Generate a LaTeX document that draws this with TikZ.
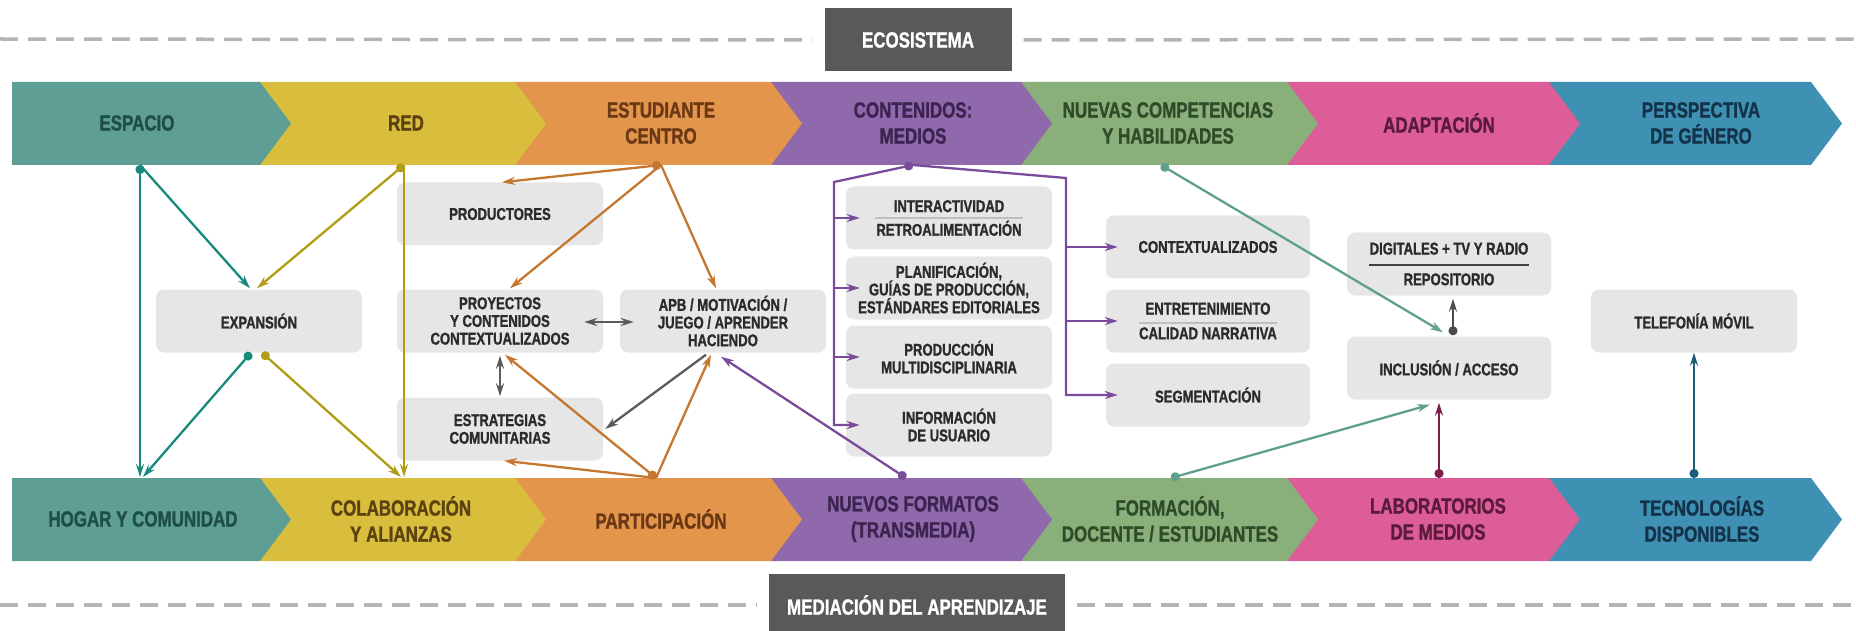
\documentclass[tikz,border=0pt]{standalone}
\usepackage{fontspec}
\setmainfont{Liberation Sans}[FakeStretch=0.77,BoldFont={Liberation Sans Bold},BoldFeatures={FakeStretch=0.77,FakeBold=1.2}]
\usetikzlibrary{arrows.meta,calc}

\definecolor{cTeal}{HTML}{5F9E94}\definecolor{cTealTx}{HTML}{1E4E48}
\definecolor{cYel}{HTML}{D8BE3C}\definecolor{cYelTx}{HTML}{5C4210}
\definecolor{cOra}{HTML}{E3954B}\definecolor{cOraTx}{HTML}{6A3814}
\definecolor{cPur}{HTML}{8F69AB}\definecolor{cPurTx}{HTML}{3D2450}
\definecolor{cGrn}{HTML}{89B07B}\definecolor{cGrnTx}{HTML}{2F4B27}
\definecolor{cPnk}{HTML}{DD5D99}\definecolor{cPnkTx}{HTML}{5B1B3A}
\definecolor{cBlu}{HTML}{3F91B3}\definecolor{cBluTx}{HTML}{14324A}
\definecolor{lTeal}{HTML}{178A7C}\definecolor{lOlive}{HTML}{B19C15}
\definecolor{lOra}{HTML}{C5772F}\definecolor{lGray}{HTML}{5B5B5B}
\definecolor{lPur}{HTML}{7B4B9B}\definecolor{lTealb}{HTML}{5E9F8E}
\definecolor{lMag}{HTML}{7C1D4C}\definecolor{lBlu}{HTML}{1E5B78}
\definecolor{boxfill}{HTML}{E6E6E6}\definecolor{boxtext}{HTML}{2B2B2B}
\definecolor{titlefill}{HTML}{58595B}\definecolor{dashgray}{HTML}{B4B4B4}

\begin{document}
\begin{tikzpicture}[x=1pt,y=-1pt,
  gbox/.style={fill=boxfill,rounded corners=8pt,minimum width=206pt,minimum height=63pt,inner sep=2pt,align=center,text=boxtext,font=\bfseries\fontsize{17}{17.7}\selectfont},
  bandtxt/.style={align=center,font=\bfseries\fontsize{22}{26}\selectfont},
  titlebox/.style={fill=titlefill,text=white,minimum height=63pt,font=\bfseries\fontsize{22}{24}\selectfont},
  dashline/.style={draw=dashgray,line width=3.5pt,dash pattern=on 18pt off 10pt},
  conn/.style={line width=2.3pt,-{Stealth[length=13pt,width=8pt]}},
  dconn/.style={line width=2.3pt,{Circle[length=9pt]}-{Stealth[length=13pt,width=8pt]}},
  twoway/.style={line width=2.3pt,{Stealth[length=13pt,width=8pt]}-{Stealth[length=13pt,width=8pt]}},
  sepline/.style={line width=1.3pt}]
\useasboundingbox (0,0) rectangle (1856,631);

\node[titlebox,minimum width=187pt] (ecosistema) at (918,40) {ECOSISTEMA};
\node[titlebox,minimum width=296pt] (mediacion) at (917,605) {MEDIACIÓN DEL APRENDIZAJE};
\draw[dashline] (0,39) -- ($(ecosistema.west)+(-12,0)$);
\draw[dashline] ($(ecosistema.east)+(12,0)$) -- (1856,39);
\draw[dashline] (0,605) -- ($(mediacion.west)+(-12,0)$);
\draw[dashline] ($(mediacion.east)+(12,0)$) -- (1856,605);

\foreach \l/\r/\c in {1549/1811/cBlu,1287/1549/cPnk,1021/1287/cGrn,771/1021/cPur,515/771/cOra,260/515/cYel,12/260/cTeal} {
  \fill[\c] (\l,82) -- (\r,82) -- (\r+31,123.5) -- (\r,165) -- (\l,165) -- cycle;
  \fill[\c] (\l,478) -- (\r,478) -- (\r+31,519.5) -- (\r,561) -- (\l,561) -- cycle;
}

\node[bandtxt,text=cTealTx] (espacio) at (137,123) {ESPACIO};
\node[bandtxt,text=cYelTx] (red) at (406,123) {RED};
\node[bandtxt,text=cOraTx] (estudiante) at (661,123) {ESTUDIANTE\\CENTRO};
\node[bandtxt,text=cPurTx] (contenidos) at (913,123) {CONTENIDOS:\\MEDIOS};
\node[bandtxt,text=cGrnTx] (competencias) at (1168,123) {NUEVAS COMPETENCIAS\\Y HABILIDADES};
\node[bandtxt,text=cPnkTx] (adaptacion) at (1439,123) {ADAPTACIÓN};
\node[bandtxt,text=cBluTx] (genero) at (1701,123) {PERSPECTIVA\\DE GÉNERO};
\node[bandtxt,text=cTealTx] (hogar) at (143,519) {HOGAR Y COMUNIDAD};
\node[bandtxt,text=cYelTx] (colaboracion) at (401,519) {COLABORACIÓN\\Y ALIANZAS};
\node[bandtxt,text=cOraTx] (participacion) at (661,519) {PARTICIPACIÓN};
\node[bandtxt,text=cPurTx] (formatos) at (913,519) {NUEVOS FORMATOS\\(TRANSMEDIA)};
\node[bandtxt,text=cGrnTx] (formacion) at (1170,519) {FORMACIÓN,\\DOCENTE / ESTUDIANTES};
\node[bandtxt,text=cPnkTx] (laboratorios) at (1438,519) {LABORATORIOS\\DE MEDIOS};
\node[bandtxt,text=cBluTx] (tecnologias) at (1702,519) {TECNOLOGÍAS\\DISPONIBLES};

\coordinate (espacio-d) at (140,165);
\coordinate (red-d) at (404,165);
\coordinate (estudiante-d) at (661,165);
\coordinate (contenidos-d) at (913,165);
\coordinate (competencias-d) at (1161,165);
\coordinate (hogar-a) at (140,477);
\coordinate (hogar-b) at (143,477);
\coordinate (colaboracion-a) at (404,477);
\coordinate (colaboracion-b) at (401,477);
\coordinate (participacion-d) at (656,478);
\coordinate (formatos-d) at (906,478);
\coordinate (formacion-d) at (1171,478);
\coordinate (laboratorios-d) at (1439,478);
\coordinate (tecnologias-d) at (1694,478);

\node[gbox] (productores) at (500,214) {PRODUCTORES};
\node[gbox] (expansion) at (259,321) {EXPANSIÓN};
\node[gbox] (proyectos) at (500,321) {PROYECTOS\\Y CONTENIDOS\\CONTEXTUALIZADOS};
\node[gbox] (estrategias) at (500,429) {ESTRATEGIAS\\COMUNITARIAS};
\node[gbox] (apb) at (723,321) {APB / MOTIVACIÓN /\\JUEGO / APRENDER\\HACIENDO};
\node[gbox] (interactividad) at (949,218) {INTERACTIVIDAD\\[6pt]RETROALIMENTACIÓN};
\node[gbox] (planificacion) at (949,288) {PLANIFICACIÓN,\\GUÍAS DE PRODUCCIÓN,\\ESTÁNDARES EDITORIALES};
\node[gbox] (produccion) at (949,357) {PRODUCCIÓN\\MULTIDISCIPLINARIA};
\node[gbox] (informacion) at (949,425) {INFORMACIÓN\\DE USUARIO};
\node[gbox,minimum width=204pt] (contextualizados) at (1208,247) {CONTEXTUALIZADOS};
\node[gbox,minimum width=204pt] (entretenimiento) at (1208,321) {ENTRETENIMIENTO\\[7pt]CALIDAD NARRATIVA};
\node[gbox,minimum width=204pt] (segmentacion) at (1208,395) {SEGMENTACIÓN};
\node[gbox,minimum width=204pt] (digitales) at (1449,264) {DIGITALES + TV Y RADIO\\[13pt]REPOSITORIO};
\node[gbox,minimum width=204pt] (inclusion) at (1449,368) {INCLUSIÓN / ACCESO};
\node[gbox] (telefonia) at (1694,321) {TELEFONÍA MÓVIL};

\draw[sepline,draw=black!25] ($(interactividad.center)+(-74,0)$) -- ($(interactividad.center)+(74,0)$);
\draw[sepline,draw=black!25] ($(entretenimiento.center)+(-69,2)$) -- ($(entretenimiento.center)+(69,2)$);
\draw[sepline,draw=black!75] ($(digitales.center)+(-80,1)$) -- ($(digitales.center)+(80,1)$);

\draw[dconn,lTeal] (espacio-d) -- (hogar-a);
\draw[conn,lTeal] (espacio-d) -- ($(expansion.north)+(-9,-1)$);
\draw[dconn,lTeal] ($(expansion.south)+(-8,0)$) -- (hogar-b);
\draw[dconn,lOlive] (red-d) -- ($(expansion.north)+(-2,-1)$);
\draw[conn,lOlive] (red-d) -- (colaboracion-a);
\draw[dconn,lOlive] ($(expansion.south)+(3,0)$) -- (colaboracion-b);

\draw[dconn,lOra] (estudiante-d) -- ($(productores.north)+(2,0)$);
\draw[conn,lOra] (estudiante-d) -- ($(proyectos.north)+(10,-1)$);
\draw[conn,lOra] (estudiante-d) -- ($(apb.north)+(-7,-1)$);
\draw[dconn,lOra] (participacion-d) -- ($(proyectos.south)+(5,2)$);
\draw[conn,lOra] (participacion-d) -- ($(estrategias.south)+(4,0)$);
\draw[conn,lOra] (participacion-d) -- ($(apb.south)+(-12,2)$);

\draw[twoway,lGray] ($(proyectos.east)+(-19,1)$) -- ($(apb.west)+(14,1)$);
\draw[twoway,lGray] ($(proyectos.south)+(0,3)$) -- ($(estrategias.north)+(0,-1)$);
\draw[conn,lGray] ($(apb.south)+(-17,2)$) -- ($(estrategias.east)+(2,0)$);

\draw[dconn,lPur] (formatos-d) -- ($(apb.south)+(-2,4)$);
\coordinate (brL) at (834,182);
\coordinate (brR) at (1066,178);
\draw[dconn,lPur] (contenidos-d) -- (brL) -- (brL |- informacion.west) -- ($(informacion.west)+(14,0)$);
\draw[conn,lPur] (contenidos-d) -- (brR) -- (brR |- segmentacion.west) -- ($(segmentacion.west)+(12,0)$);
\foreach \n in {interactividad,planificacion,produccion}
  \draw[conn,lPur] (brL |- \n.west) -- ($(\n.west)+(14,0)$);
\foreach \n in {contextualizados,entretenimiento}
  \draw[conn,lPur] (brR |- \n.west) -- ($(\n.west)+(12,0)$);

\draw[dconn,lTealb] (competencias-d) -- ($(inclusion.north)+(-6,-4)$);
\draw[dconn,lTealb] (formacion-d) -- ($(inclusion.south)+(-19,5)$);
\draw[dconn,black!70] ($(inclusion.north)+(4,-1)$) -- ($(digitales.south)+(4,3)$);
\draw[dconn,lMag] (laboratorios-d) -- ($(inclusion.south)+(-10,3)$);
\draw[dconn,lBlu] (tecnologias-d) -- (telefonia.south);
\end{tikzpicture}
\end{document}
